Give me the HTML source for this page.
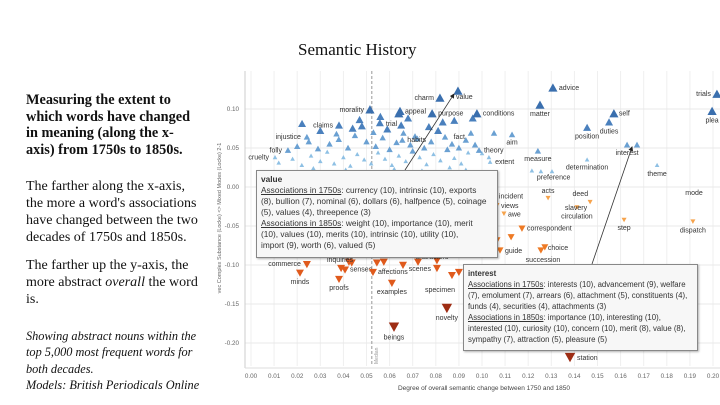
<!DOCTYPE html>
<html><head><meta charset="utf-8">
<style>
body{margin:0;width:720px;height:405px;overflow:hidden;background:#fff;position:relative;font-family:"Liberation Sans",sans-serif}
.lt{position:absolute;left:26px;font-family:"Liberation Serif",serif;font-size:14px;line-height:17px;color:#111;white-space:nowrap}
.tip{position:absolute;background:#f7f7f7;border:1px solid #888;box-shadow:1px 1px 2px rgba(0,0,0,.3);font-size:8.3px;line-height:11px;color:#333;padding:3px 4px;box-sizing:border-box;overflow:hidden;white-space:nowrap}
.tip u{text-decoration:underline}
</style></head><body>
<div class="lt" style="top:92px;font-weight:bold;line-height:16.7px;font-size:14.3px">Measuring the extent to<br>which words have changed<br>in meaning (along the x-<br>axis) from 1750s to 1850s.</div>
<div class="lt" style="top:178px">The farther along the x-axis,<br>the more a word's associations<br>have changed between the two<br>decades of 1750s and 1850s.</div>
<div class="lt" style="top:257px">The farther up the y-axis, the<br>more abstract <i>overall</i> the word<br>is.</div>
<div class="lt" style="top:328px;font-style:italic;font-size:12.3px;line-height:16.3px">Showing abstract nouns within the<br>top 5,000 most frequent words for<br>both decades.<br>Models: British Periodicals Online</div>
<div style="position:absolute;left:298px;top:40px;font-family:'Liberation Serif',serif;font-size:17px;color:#111">Semantic History</div>
<svg id="chart" width="720" height="405" style="position:absolute;left:0;top:0"></svg>
<div class="tip" style="left:256px;top:170px;width:242px;height:88px"><b>value</b><br><u>Associations in 1750s</u>: currency (10), intrinsic (10), exports<br>(8), bullion (7), nominal (6), dollars (6), halfpence (5), coinage<br>(5), values (4), threepence (3)<br><u>Associations in 1850s</u>: weight (10), importance (10), merit<br>(10), values (10), merits (10), intrinsic (10), utility (10),<br>import (9), worth (6), valued (5)</div>
<div class="tip" style="left:463px;top:264px;width:235px;height:87px;font-size:7.8px"><b>interest</b><br><u>Associations in 1750s</u>: interests (10), advancement (9), welfare<br>(7), emolument (7), arrears (6), attachment (5), constituents (4),<br>funds (4), securities (4), attachments (3)<br><u>Associations in 1850s</u>: importance (10), interesting (10),<br>interested (10), curiosity (10), concern (10), merit (8), value (8),<br>sympathy (7), attraction (5), pleasure (5)</div>
<script>
const xTicks=[0,0.01,0.02,0.03,0.04,0.05,0.06,0.07,0.08,0.09,0.10,0.11,0.12,0.13,0.14,0.15,0.16,0.17,0.18,0.19,0.20];
const yTicks=[0.10,0.05,0.00,-0.05,-0.10,-0.15,-0.20];
const medianX=0.0523;
const words=["value","charm","morality","appeal","","purpose","trial","claims","","injustice","folly","cruelty","habits","fact","conditions","advice","matter","self","duties","position","trials","plea","interest","","theme","measure","determination","preference","","","theory","extent","aim","",
"incident","views","awe","acts","deed","circulation","correspondent","step","dispatch","choice","","guide","commerce","minds","senses","","proofs","affections","","examples","scenes","","","novelty","beings","station","","","","","","","","","","","",""];
const xs=[0.0896,0.0818,0.0515,0.0645,0.064,0.0784,0.0558,0.0381,0.0221,0.0242,0.016,0.0104,0.0655,0.0952,0.0978,0.1307,0.1251,0.1571,0.155,0.1455,0.2017,0.1996,0.1628,0.1671,0.1758,0.1242,0.1455,0.1216,0.1303,0.1255,0.0987,0.1035,0.113,0.1052,
0.1056,0.1065,0.1095,0.1286,0.1468,0.1411,0.1173,0.1615,0.1913,0.1255,0.1272,0.1078,0.0242,0.0212,0.0407,0.039,0.0381,0.0528,0.0545,0.061,0.0805,0.087,0.09,0.0848,0.0619,0.1381,0.0575,0.0658,0.0723,0.0805,0.0424,0.0436,0.1052,0.1126,0.1065,0.1017,0.0545,0.0500];
const ys=[0.123,0.114,0.099,0.097,0.094,0.094,0.082,0.079,0.081,0.064,0.047,0.038,0.060,0.069,0.094,0.127,0.105,0.094,0.083,0.076,0.119,0.097,0.054,0.054,0.028,0.046,0.035,0.021,0.020,0.020,0.047,0.032,0.067,0.069,
-0.012,-0.023,-0.034,-0.014,-0.019,-0.026,-0.053,-0.042,-0.044,-0.081,-0.077,-0.081,-0.099,-0.110,-0.106,-0.104,-0.118,-0.109,-0.097,-0.123,-0.104,-0.113,-0.109,-0.155,-0.179,-0.218,-0.096,-0.100,-0.096,-0.094,-0.096,-0.097,-0.065,-0.064,-0.068,-0.053,-0.047,-0.052];
// unlabelled cloud of abstract nouns
const cloudX=[0.012,0.018,0.022,0.026,0.03,0.033,0.036,0.04,0.043,0.046,0.049,0.052,0.055,0.058,0.061,0.064,0.067,0.07,0.073,0.076,0.079,0.082,0.085,0.088,0.091,0.094,0.02,0.025,0.029,0.034,0.038,0.042,0.045,0.05,0.054,0.057,0.06,0.063,0.066,0.069,0.072,0.075,0.078,0.081,0.084,0.087,0.09,0.093,0.097,0.1,0.103,0.03,0.037,0.044,0.048,0.053,0.059,0.065,0.071,0.077,0.083,0.088,0.096,0.027,0.041,0.062,0.074,0.086,0.093,0.047,0.056,0.068];
const cloudY=[0.031,0.036,0.028,0.040,0.033,0.045,0.030,0.038,0.027,0.042,0.035,0.030,0.044,0.036,0.028,0.040,0.033,0.046,0.038,0.029,0.042,0.034,0.048,0.037,0.030,0.044,0.052,0.058,0.049,0.055,0.061,0.050,0.066,0.058,0.052,0.063,0.048,0.057,0.069,0.054,0.062,0.050,0.058,0.072,0.064,0.055,0.050,0.060,0.054,0.043,0.038,0.072,0.068,0.075,0.078,0.070,0.074,0.079,0.065,0.077,0.083,0.085,0.088,0.024,0.022,0.023,0.021,0.025,0.022,0.086,0.090,0.088];
// label offsets (style, not data)
const lab={value:[-2,8,'start'],charm:[-6,2,'end'],morality:[-6,2,'end'],appeal:[5,2,'start'],purpose:[6,2,'start'],trial:[6,3,'start'],claims:[-6,2,'end'],injustice:[-6,2,'end'],folly:[-6,2,'end'],cruelty:[-6,2,'end'],habits:[5,2,'start'],fact:[-6,6,'end'],conditions:[6,2,'start'],advice:[6,2,'start'],matter:[0,11,'middle'],self:[5,2,'start'],duties:[0,11,'middle'],position:[0,11,'middle'],trials:[-6,2,'end'],plea:[0,11,'middle'],interest:[0,10,'middle'],theme:[0,11,'middle'],measure:[0,10,'middle'],determination:[0,10,'middle'],preference:[5,9,'start'],theory:[5,2,'start'],extent:[5,2,'start'],aim:[0,10,'middle'],
incident:[4,2,'start'],views:[4,3,'start'],awe:[4,3,'start'],acts:[0,-5,'middle'],deed:[-2,-6,'end'],circulation:[0,11,'middle'],correspondent:[5,2,'start'],step:[0,10,'middle'],dispatch:[0,11,'middle'],choice:[7,0,'start'],guide:[5,3,'start'],commerce:[-6,2,'end'],minds:[0,11,'middle'],senses:[5,2,'start'],proofs:[0,11,'middle'],affections:[5,2,'start'],examples:[0,11,'middle'],scenes:[-6,3,'end'],novelty:[0,12,'middle'],beings:[0,13,'middle'],station:[7,3,'start']};
const NS="http://www.w3.org/2000/svg";
const svg=document.getElementById('chart');
const X0=251,XS=2310,Y0=187,YS=780,PL=245,PR=720,PT=71,PB=366;
const sx=v=>X0+v*XS, sy=v=>Y0-v*YS;
function mk(t,a){const e=document.createElementNS(NS,t);for(const k in a)e.setAttribute(k,a[k]);svg.appendChild(e);return e;}
for(const t of xTicks){const g=mk('line',{x1:sx(t),x2:sx(t),y1:PT,y2:PB,stroke:'#efefef','stroke-width':1});


const l=mk('text',{x:sx(t),y:378,'font-size':6.3,fill:'#666','text-anchor':'middle'});l.textContent=t.toFixed(2);

}
for(const t of yTicks){const g=mk('line',{x1:PL,x2:PR,y1:sy(t),y2:sy(t),stroke:'#e8e8e8','stroke-width':1});


const l=mk('text',{x:239,y:sy(t)+2,'font-size':6.3,fill:'#666','text-anchor':'end'});l.textContent=t.toFixed(2);

}
const ax=mk('line',{x1:PL,x2:PL,y1:PT,y2:PB+2,stroke:'#ccc'});


const bx=mk('line',{x1:PL,x2:PR,y1:PB+2,y2:PB+2,stroke:'#ddd'});


const md=mk('line',{x1:sx(medianX),x2:sx(medianX),y1:PT,y2:PB,stroke:'#999','stroke-dasharray':'3,2'});


const mt=mk('text',{x:0,y:0,'font-size':5,fill:'#999',transform:`translate(${sx(medianX)+6},${PB-2}) rotate(-90)`});mt.textContent='Median';


const xt=mk('text',{x:484,y:390,'font-size':6.5,fill:'#444','text-anchor':'middle'});xt.textContent='Degree of overall semantic change between 1750 and 1850';


const yt=mk('text',{x:0,y:0,'font-size':5.5,fill:'#666','text-anchor':'middle',transform:'translate(221,218) rotate(-90)'});yt.textContent='vec Complex Substance (Locke) <> Mixed Modes (Locke) 2-1';


function style(y){
 if(y>=0){ if(y>0.09)return['#3a6fae',4.6]; if(y>0.07)return['#4a80bd',4]; if(y>0.045)return['#6aa0d2',3.2]; return['#8ec0e4',2.3];}
 if(y<-0.15)return['#9e2d14',5.2]; if(y<-0.09)return['#e05a1c',4]; if(y<-0.05)return['#ee7a25',3.5]; return['#f6a34c',2.5];}
function tri(x,y,val,name){const [c,s]=style(val);const cx=sx(x),cy=sy(val);
 const p=val>=0?`${cx-s},${cy+s*0.8} ${cx+s},${cy+s*0.8} ${cx},${cy-s*1.0}`:`${cx-s},${cy-s*0.8} ${cx+s},${cy-s*0.8} ${cx},${cy+s*1.0}`;
 const e=mk('polygon',{points:p,fill:c});
 
 }
for(let i=0;i<cloudX.length;i++)tri(cloudX[i],cloudY[i],cloudY[i],'word-point');
for(let i=0;i<xs.length;i++){tri(xs[i],ys[i],ys[i],'word-point');
 const w=words[i];if(w&&lab[w]){const o=lab[w];const t=mk('text',{x:sx(xs[i])+o[0],y:sy(ys[i])+o[1],'font-size':7,fill:'#333','text-anchor':o[2]});t.textContent=w;
 
 }}
const extra=[["slavery",576,210],["mode",694,195],["succession",543,262],["inquiries",340,262],["characters",432,259],["specimen",440,292],["con",410,176]];
for(const e of extra){const t=mk('text',{x:e[1],y:e[2],'font-size':7,fill:'#333','text-anchor':'middle'});t.textContent=e[0];
 
 }
const defs=mk('defs',{});defs.innerHTML='<marker id="ah" markerWidth="6" markerHeight="6" refX="5" refY="3" orient="auto"><path d="M0,0L6,3L0,6z" fill="#222"/></marker>';
const a1=mk('line',{x1:405,y1:170,x2:sx(xs[0])-4,y2:sy(ys[0])+3,stroke:'#333','stroke-width':0.8,'marker-end':'url(#ah)'});


const a2=mk('line',{x1:592,y1:264,x2:sx(xs[22])+5,y2:sy(ys[22])+2,stroke:'#333','stroke-width':0.8,'marker-end':'url(#ah)'});


</script>
</body></html>
